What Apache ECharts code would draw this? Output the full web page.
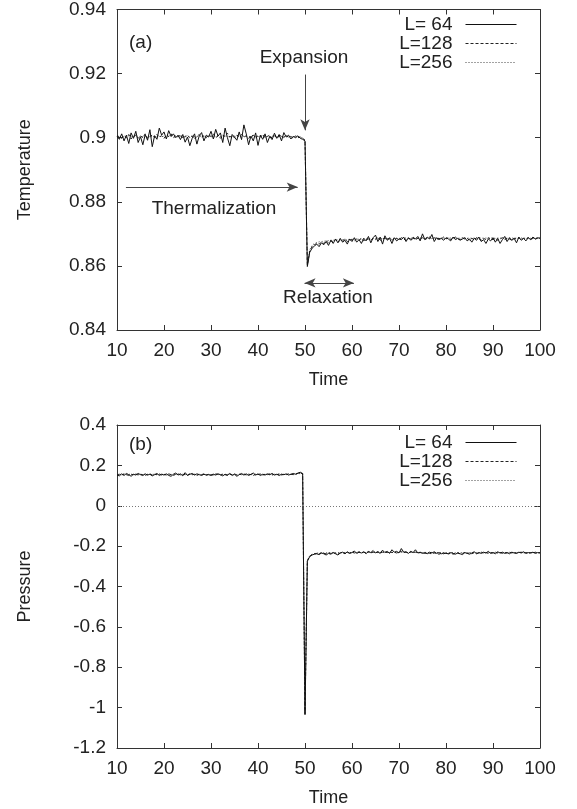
<!DOCTYPE html>
<html><head><meta charset="utf-8">
<script src="https://cdn.jsdelivr.net/npm/echarts@6/dist/echarts.min.js"></script>
<style>html,body{margin:0;padding:0;background:#fff}#c{width:577px;height:809px}</style>
</head><body><div id="c"></div>
<script>
const seriesNames = ['L= 64', 'L=128', 'L=256'];
const time = [
10,10.5,11,11.5,12,12.5,13,13.5,14,14.5,
15,15.5,16,16.5,17,17.5,18,18.5,19,19.5,
20,20.5,21,21.5,22,22.5,23,23.5,24,24.5,
25,25.5,26,26.5,27,27.5,28,28.5,29,29.5,
30,30.5,31,31.5,32,32.5,33,33.5,34,34.5,
35,35.5,36,36.5,37,37.5,38,38.5,39,39.5,
40,40.5,41,41.5,42,42.5,43,43.5,44,44.5,
45,45.5,46,46.5,47,47.5,48,48.5,49,49.5,
50,50.5,51,51.5,52,52.5,53,53.5,54,54.5,
55,55.5,56,56.5,57,57.5,58,58.5,59,59.5,
60,60.5,61,61.5,62,62.5,63,63.5,64,64.5,
65,65.5,66,66.5,67,67.5,68,68.5,69,69.5,
70,70.5,71,71.5,72,72.5,73,73.5,74,74.5,
75,75.5,76,76.5,77,77.5,78,78.5,79,79.5,
80,80.5,81,81.5,82,82.5,83,83.5,84,84.5,
85,85.5,86,86.5,87,87.5,88,88.5,89,89.5,
90,90.5,91,91.5,92,92.5,93,93.5,94,94.5,
95,95.5,96,96.5,97,97.5,98,98.5,99,99.5,
100];

const tempL64 = [
0.9005,0.8995,0.9012,0.8990,0.9008,0.8982,0.9015,0.8998,0.9020,0.8985,
0.9003,0.8978,0.9010,0.8992,0.9025,0.8972,0.9006,0.8995,0.9030,0.9008,
0.9018,0.8996,0.9022,0.9004,0.9012,0.9000,0.9008,0.8994,0.9010,0.8986,
0.9002,0.8975,0.8998,0.9012,0.8980,0.9006,0.9016,0.8990,0.9008,0.9002,
0.9020,0.8996,0.9026,0.9005,0.9015,0.8985,0.9030,0.9000,0.8975,0.9010,
0.9002,0.8992,0.9018,0.8994,0.9040,0.9012,0.8978,0.9005,0.8990,0.9015,
0.8976,0.9008,0.8995,0.9012,0.8985,0.9004,0.8994,0.9014,0.8998,0.9010,
0.8990,0.9016,0.9002,0.9008,0.8996,0.9004,0.9000,0.9006,0.8998,0.8995,
0.8990,0.8598,0.8642,0.8655,0.8662,0.8668,0.8660,0.8672,0.8666,0.8676,
0.8664,0.8680,0.8670,0.8684,0.8672,0.8686,0.8674,0.8680,0.8668,0.8684,
0.8676,0.8688,0.8674,0.8682,0.8670,0.8686,0.8678,0.8692,0.8672,0.8688,
0.8696,0.8676,0.8690,0.8668,0.8694,0.8680,0.8686,0.8670,0.8688,0.8678,
0.8684,0.8682,0.8690,0.8676,0.8688,0.8680,0.8686,0.8684,0.8692,0.8678,
0.8700,0.8682,0.8690,0.8684,0.8698,0.8676,0.8688,0.8682,0.8686,0.8680,
0.8688,0.8684,0.8678,0.8690,0.8682,0.8686,0.8680,0.8684,0.8688,0.8678,
0.8684,0.8674,0.8686,0.8680,0.8690,0.8676,0.8682,0.8670,0.8684,0.8678,
0.8688,0.8674,0.8686,0.8670,0.8682,0.8692,0.8676,0.8688,0.8680,0.8686,
0.8672,0.8690,0.8680,0.8686,0.8678,0.8688,0.8682,0.8690,0.8684,0.8688,
0.8686];

const tempL128 = [
0.9008,0.9002,0.8998,0.9006,0.9000,0.9010,0.8996,0.9004,0.9008,0.8998,
0.9006,0.9000,0.9012,0.8998,0.9004,0.9008,0.9000,0.9010,0.9002,0.9006,
0.8998,0.9008,0.9004,0.9012,0.9000,0.9006,0.9002,0.9010,0.8998,0.9004,
0.9008,0.9000,0.9006,0.8996,0.9004,0.9010,0.9002,0.9006,0.9000,0.9008,
0.9004,0.9012,0.9000,0.9006,0.8998,0.9008,0.9004,0.9014,0.9002,0.9006,
0.9000,0.9008,0.9004,0.9010,0.9002,0.9006,0.8998,0.9004,0.9008,0.9000,
0.9006,0.9002,0.9010,0.9000,0.9004,0.9008,0.8998,0.9006,0.9002,0.9004,
0.9008,0.9000,0.9006,0.9002,0.9004,0.8998,0.9006,0.9000,0.9002,0.8998,
0.8992,0.8602,0.8646,0.8660,0.8666,0.8670,0.8668,0.8674,0.8670,0.8678,
0.8672,0.8678,0.8676,0.8682,0.8674,0.8680,0.8678,0.8684,0.8676,0.8680,
0.8682,0.8678,0.8684,0.8680,0.8686,0.8678,0.8682,0.8684,0.8680,0.8686,
0.8682,0.8688,0.8680,0.8684,0.8686,0.8682,0.8688,0.8680,0.8684,0.8686,
0.8682,0.8688,0.8684,0.8680,0.8686,0.8684,0.8690,0.8682,0.8686,0.8684,
0.8688,0.8682,0.8686,0.8690,0.8684,0.8688,0.8682,0.8686,0.8684,0.8690,
0.8684,0.8688,0.8682,0.8686,0.8690,0.8684,0.8682,0.8688,0.8684,0.8686,
0.8680,0.8686,0.8682,0.8688,0.8684,0.8680,0.8686,0.8682,0.8688,0.8684,
0.8682,0.8686,0.8680,0.8684,0.8688,0.8682,0.8686,0.8684,0.8680,0.8686,
0.8684,0.8688,0.8682,0.8686,0.8684,0.8688,0.8682,0.8686,0.8684,0.8686,
0.8686];

const tempL256 = [
0.9004,0.9002,0.9005,0.9001,0.9003,0.9006,0.9002,0.9004,0.9003,0.9005,
0.9002,0.9004,0.9006,0.9003,0.9001,0.9004,0.9005,0.9002,0.9004,0.9003,
0.9005,0.9002,0.9004,0.9006,0.9003,0.9002,0.9005,0.9004,0.9001,0.9003,
0.9004,0.9002,0.9005,0.9003,0.9004,0.9006,0.9002,0.9004,0.9003,0.9005,
0.9003,0.9004,0.9002,0.9005,0.9004,0.9003,0.9006,0.9004,0.9002,0.9004,
0.9005,0.9003,0.9004,0.9002,0.9005,0.9004,0.9003,0.9005,0.9002,0.9004,
0.9003,0.9005,0.9004,0.9002,0.9004,0.9003,0.9005,0.9004,0.9002,0.9003,
0.9004,0.9003,0.9005,0.9002,0.9004,0.9003,0.9002,0.9004,0.9001,0.8999,
0.8993,0.8605,0.8650,0.8664,0.8670,0.8673,0.8675,0.8676,0.8677,0.8678,
0.8679,0.8680,0.8680,0.8681,0.8681,0.8682,0.8682,0.8683,0.8682,0.8683,
0.8683,0.8684,0.8683,0.8684,0.8684,0.8685,0.8684,0.8685,0.8684,0.8685,
0.8685,0.8686,0.8685,0.8685,0.8686,0.8685,0.8686,0.8686,0.8685,0.8686,
0.8686,0.8685,0.8686,0.8687,0.8686,0.8686,0.8687,0.8686,0.8686,0.8687,
0.8686,0.8687,0.8686,0.8687,0.8686,0.8687,0.8687,0.8686,0.8687,0.8686,
0.8687,0.8686,0.8687,0.8687,0.8686,0.8687,0.8686,0.8687,0.8687,0.8686,
0.8687,0.8686,0.8687,0.8686,0.8687,0.8687,0.8686,0.8687,0.8686,0.8687,
0.8687,0.8686,0.8687,0.8687,0.8686,0.8687,0.8686,0.8687,0.8687,0.8686,
0.8687,0.8686,0.8687,0.8686,0.8687,0.8687,0.8686,0.8687,0.8686,0.8687,
0.8687];

const presL64 = [
0.152,0.148,0.158,0.150,0.160,0.154,0.146,0.156,0.152,0.160,
0.154,0.150,0.158,0.152,0.156,0.148,0.154,0.160,0.150,0.156,
0.152,0.158,0.150,0.146,0.156,0.162,0.152,0.158,0.148,0.164,
0.150,0.156,0.160,0.152,0.158,0.154,0.150,0.156,0.152,0.154,
0.150,0.156,0.152,0.158,0.154,0.148,0.156,0.152,0.160,0.150,
0.156,0.146,0.154,0.160,0.152,0.158,0.150,0.156,0.162,0.152,
0.158,0.150,0.156,0.152,0.158,0.154,0.160,0.152,0.156,0.150,
0.156,0.154,0.158,0.152,0.156,0.160,0.156,0.162,0.166,0.160,
-1.035,-0.275,-0.252,-0.244,-0.240,-0.238,-0.242,-0.234,-0.238,-0.244,
-0.236,-0.240,-0.232,-0.238,-0.244,-0.234,-0.230,-0.238,-0.228,-0.236,
-0.232,-0.224,-0.236,-0.230,-0.234,-0.228,-0.238,-0.226,-0.232,-0.222,
-0.234,-0.228,-0.236,-0.220,-0.232,-0.226,-0.236,-0.218,-0.230,-0.226,
-0.234,-0.212,-0.230,-0.228,-0.236,-0.226,-0.232,-0.218,-0.234,-0.230,
-0.236,-0.232,-0.238,-0.230,-0.234,-0.228,-0.236,-0.232,-0.238,-0.234,
-0.236,-0.238,-0.232,-0.236,-0.240,-0.234,-0.238,-0.242,-0.232,-0.236,
-0.240,-0.234,-0.228,-0.238,-0.232,-0.236,-0.230,-0.234,-0.226,-0.236,
-0.232,-0.238,-0.228,-0.234,-0.230,-0.236,-0.232,-0.238,-0.230,-0.234,
-0.236,-0.230,-0.234,-0.228,-0.236,-0.232,-0.234,-0.230,-0.236,-0.232,
-0.234];

const presL128 = [
0.154,0.156,0.152,0.158,0.154,0.150,0.156,0.154,0.158,0.152,
0.156,0.154,0.150,0.156,0.158,0.152,0.156,0.154,0.158,0.152,
0.156,0.152,0.158,0.154,0.150,0.156,0.158,0.152,0.156,0.154,
0.152,0.158,0.154,0.156,0.150,0.156,0.154,0.158,0.152,0.156,
0.154,0.152,0.158,0.156,0.152,0.156,0.154,0.150,0.156,0.154,
0.158,0.152,0.156,0.154,0.158,0.152,0.156,0.154,0.150,0.156,
0.154,0.158,0.152,0.156,0.154,0.158,0.152,0.156,0.154,0.158,
0.152,0.156,0.154,0.158,0.156,0.154,0.158,0.160,0.162,0.158,
-1.030,-0.272,-0.250,-0.242,-0.238,-0.236,-0.238,-0.234,-0.236,-0.238,
-0.234,-0.236,-0.232,-0.236,-0.238,-0.234,-0.232,-0.236,-0.232,-0.234,
-0.230,-0.234,-0.232,-0.228,-0.234,-0.230,-0.232,-0.228,-0.234,-0.230,
-0.232,-0.228,-0.234,-0.230,-0.226,-0.232,-0.228,-0.232,-0.230,-0.234,
-0.230,-0.226,-0.232,-0.230,-0.234,-0.228,-0.232,-0.230,-0.234,-0.232,
-0.234,-0.236,-0.232,-0.236,-0.238,-0.234,-0.236,-0.240,-0.236,-0.238,
-0.234,-0.238,-0.236,-0.240,-0.236,-0.234,-0.238,-0.236,-0.232,-0.236,
-0.234,-0.238,-0.232,-0.236,-0.234,-0.230,-0.234,-0.232,-0.236,-0.232,
-0.234,-0.230,-0.234,-0.232,-0.236,-0.232,-0.234,-0.230,-0.234,-0.232,
-0.234,-0.232,-0.230,-0.234,-0.232,-0.236,-0.232,-0.234,-0.230,-0.234,
-0.232];

const presL256 = [
0.155,0.154,0.156,0.155,0.154,0.156,0.155,0.154,0.156,0.155,
0.154,0.155,0.156,0.154,0.155,0.156,0.155,0.154,0.155,0.156,
0.155,0.154,0.156,0.155,0.155,0.154,0.156,0.155,0.154,0.155,
0.156,0.155,0.154,0.155,0.156,0.155,0.154,0.156,0.155,0.154,
0.155,0.156,0.155,0.154,0.155,0.156,0.154,0.155,0.156,0.155,
0.154,0.155,0.156,0.155,0.154,0.155,0.156,0.155,0.154,0.156,
0.155,0.154,0.155,0.156,0.155,0.154,0.156,0.155,0.155,0.154,
0.156,0.155,0.154,0.156,0.155,0.156,0.157,0.158,0.160,0.158,
-1.025,-0.270,-0.248,-0.240,-0.237,-0.235,-0.234,-0.234,-0.233,-0.233,
-0.233,-0.232,-0.233,-0.232,-0.232,-0.233,-0.232,-0.232,-0.231,-0.232,
-0.232,-0.231,-0.232,-0.231,-0.232,-0.231,-0.232,-0.231,-0.231,-0.232,
-0.231,-0.232,-0.231,-0.231,-0.232,-0.231,-0.232,-0.231,-0.231,-0.232,
-0.231,-0.231,-0.232,-0.231,-0.232,-0.231,-0.231,-0.232,-0.231,-0.232,
-0.232,-0.231,-0.232,-0.232,-0.231,-0.232,-0.232,-0.231,-0.232,-0.232,
-0.232,-0.233,-0.232,-0.232,-0.233,-0.232,-0.233,-0.232,-0.232,-0.233,
-0.232,-0.233,-0.232,-0.232,-0.233,-0.232,-0.232,-0.233,-0.232,-0.232,
-0.232,-0.233,-0.232,-0.232,-0.233,-0.232,-0.232,-0.233,-0.232,-0.232,
-0.233,-0.232,-0.232,-0.233,-0.232,-0.232,-0.233,-0.232,-0.232,-0.233,
-0.232];

// annotation anchors (data coordinates)
const expansionArrow = [[50, 0.9197], [50, 0.9023]];
const thermalArrow = [[11.9, 0.8846], [48.45, 0.8846]];
const relaxArrow = [[49.9, 0.8547], [60.4, 0.8547]];

const FONT = "'Liberation Sans', Arial, Helvetica, sans-serif";
const TXT = '#222';
const AX = '#333';

function pairs(arr) { return time.map((t, i) => [t, arr[i]]); }

const styles = [
  { color: '#111', type: 'solid' },
  { color: '#222', type: [3, 2] },
  { color: '#444', type: [1, 2] }
];

function xAx(gi, pos, show) {
  return {
    type: 'value', gridIndex: gi, position: pos, min: 10, max: 100, interval: 10,
    axisLine: { show: true, onZero: false, lineStyle: { color: AX, width: 1 } },
    axisTick: { show: true, inside: true, length: 5, lineStyle: { color: AX } },
    splitLine: { show: false },
    axisLabel: { show: show, fontFamily: FONT, fontSize: 19, color: TXT, margin: 11 },
    name: show ? 'Time' : '', nameLocation: 'middle', nameGap: 41,
    nameTextStyle: { fontFamily: FONT, fontSize: 18, color: TXT }
  };
}
function yAx(gi, pos, show, min, max, iv, name) {
  return {
    type: 'value', gridIndex: gi, position: pos, min: min, max: max, interval: iv,
    axisLine: { show: true, onZero: false, lineStyle: { color: AX, width: 1 } },
    axisTick: { show: true, inside: true, length: 5, lineStyle: { color: AX } },
    splitLine: { show: false },
    axisLabel: { show: show, fontFamily: FONT, fontSize: 19, color: TXT, margin: 11 },
    name: show ? name : '', nameLocation: 'middle', nameGap: 83,
    nameTextStyle: { fontFamily: FONT, fontSize: 18, color: TXT }
  };
}

const annStyle = { color: '#444', width: 1, type: 'solid' };

const series = [];
const tempData = [tempL64, tempL128, tempL256];
const presData = [presL64, presL128, presL256];
for (let k = 0; k < 3; k++) {
  const s = {
    name: seriesNames[k], type: 'line', xAxisIndex: 0, yAxisIndex: 0,
    data: pairs(tempData[k]), symbol: 'none', showSymbol: false,
    lineStyle: { color: styles[k].color, type: styles[k].type, width: 1 },
    itemStyle: { color: styles[k].color }, z: 5 - k
  };
  if (k === 0) {
    s.markLine = {
      silent: true, symbol: ['none', 'arrow'], symbolSize: [7, 11], animation: false,
      label: { show: false }, lineStyle: annStyle,
      data: [
        [{ coord: expansionArrow[0] }, { coord: expansionArrow[1] }],
        [{ coord: thermalArrow[0] }, { coord: thermalArrow[1] }],
        [{ coord: relaxArrow[0], symbol: 'arrow' }, { coord: relaxArrow[1] }]
      ]
    };
  }
  series.push(s);
}
for (let k = 0; k < 3; k++) {
  const s = {
    name: seriesNames[k], type: 'line', xAxisIndex: 2, yAxisIndex: 2,
    data: pairs(presData[k]), symbol: 'none', showSymbol: false,
    lineStyle: { color: styles[k].color, type: styles[k].type, width: 1 },
    itemStyle: { color: styles[k].color }, z: 5 - k
  };
  if (k === 2) {
    s.markLine = {
      silent: true, symbol: ['none', 'none'], animation: false,
      label: { show: false },
      lineStyle: { color: '#777', width: 1, type: [1, 2] },
      data: [{ yAxis: 0 }]
    };
  }
  series.push(s);
}

function legend(top) {
  return {
    top: top, right: 55, orient: 'vertical', align: 'right',
    itemWidth: 51, itemHeight: 10, itemGap: 0,
    itemStyle: { opacity: 0, borderWidth: 0 },
    lineStyle: { width: 1 },
    textStyle: { fontFamily: FONT, fontSize: 19, color: TXT, lineHeight: 17, padding: [0, 8, 0, 0] },
    data: seriesNames, selectedMode: false
  };
}

const chart = echarts.init(document.getElementById('c'), null, { renderer: 'canvas' });
chart.setOption({
  animation: false,
  backgroundColor: '#fff',
  grid: [
    { left: 117, right: 37, top: 9, height: 321 },
    { left: 117, right: 37, top: 425, height: 323 }
  ],
  xAxis: [xAx(0, 'bottom', true), xAx(0, 'top', false), xAx(1, 'bottom', true), xAx(1, 'top', false)],
  yAxis: [
    yAx(0, 'left', true, 0.84, 0.94, 0.02, 'Temperature'),
    yAx(0, 'right', false, 0.84, 0.94, 0.02, ''),
    yAx(1, 'left', true, -1.2, 0.4, 0.2, 'Pressure'),
    yAx(1, 'right', false, -1.2, 0.4, 0.2, '')
  ],
  legend: [legend(10), legend(428)],
  series: series,
  graphic: [
    { type: 'text', left: 129, top: 33, style: { text: '(a)', font: '19px ' + FONT, fill: TXT } },
    { type: 'text', left: 129, top: 435, style: { text: '(b)', font: '19px ' + FONT, fill: TXT } },
    { type: 'text', x: 304, y: 58, style: { text: 'Expansion', font: '19px ' + FONT, fill: TXT, align: 'center', verticalAlign: 'middle' } },
    { type: 'text', x: 214, y: 209, style: { text: 'Thermalization', font: '19px ' + FONT, fill: TXT, align: 'center', verticalAlign: 'middle' } },
    { type: 'text', x: 328, y: 298, style: { text: 'Relaxation', font: '19px ' + FONT, fill: TXT, align: 'center', verticalAlign: 'middle' } }
  ]
});
</script>
</body></html>
